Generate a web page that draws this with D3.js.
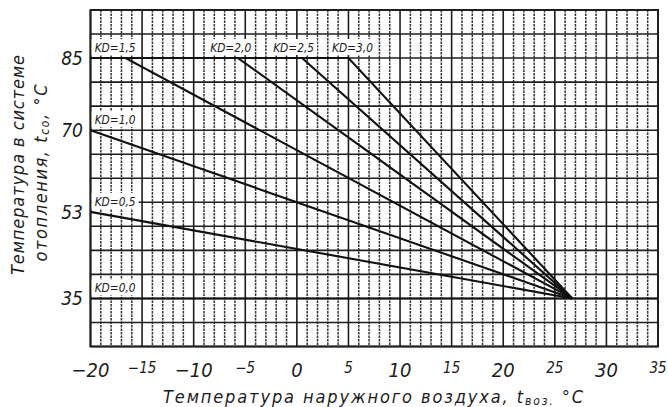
<!DOCTYPE html>
<html>
<head>
<meta charset="utf-8">
<script src="https://d3js.org/d3.v7.min.js"></script>
<style>
    body { margin: 0; background: #fff; }
    text {
        font-family: "Liberation Sans Narrow", "DejaVu Sans Condensed", sans-serif;
        font-style: italic;
        fill: #1c1c1c;
    }
    .grid-major { stroke: #1e1e1e; stroke-width: 1.6; }
    .grid-minor { stroke: #333; stroke-width: 1.5; stroke-dasharray: 2.5,1; }
    .kd { fill: none; stroke: #111; stroke-width: 2.1; }
</style>
</head>
<body>
<svg id="chart"></svg>
<script>
    // curve names, from the flattest up
    let kdNames = ['KD=0,0', 'KD=0,5', 'KD=1,0', 'KD=1,5', 'KD=2,0', 'KD=2,5', 'KD=3,0'];
    // break points of each curve: [outdoor temp, system temp]
    let kd00 = [[-20, 35], [35, 35]];
    let kd05 = [[-20, 53], [26.7, 35]];
    let kd10 = [[-20, 70], [26.7, 35]];
    let kd15 = [[-20, 85], [-16.6, 85], [26.7, 35]];
    let kd20 = [[-20, 85], [-5.7, 85], [26.7, 35]];
    let kd25 = [[-20, 85], [0.5, 85], [26.7, 35]];
    let kd30 = [[-20, 85], [5.0, 85], [26.7, 35]];
    // where each name is written (outdoor temp of its left edge)
    let labelX = [-19.6, -19.6, -19.6, -19.6, -8.4, -2.3, 3.4];

    let xTicks = [-20, -15, -10, -5, 0, 5, 10, 15, 20, 25, 30, 35];
    let yTicks = [85, 70, 53, 35];
    let xDomain = [-20, 35];
    let yDomain = [25, 95];

    let curves = [kd00, kd05, kd10, kd15, kd20, kd25, kd30];

    let width = 668, height = 407;
    let plot = { left: 90.5, right: 658, top: 10, bottom: 346.5 };

    let svg = d3.select('#chart')
        .attr('width', width)
        .attr('height', height);

    let xScale = d3.scaleLinear().domain(xDomain).range([plot.left, plot.right]);
    let yScale = d3.scaleLinear().domain(yDomain).range([plot.bottom, plot.top]);

    //---------grid
    let grid = svg.append('g');
    let minorX = d3.range(xDomain[0], xDomain[1] + 1).filter(d => d % 5 !== 0);
    let majorX = d3.range(xDomain[0], xDomain[1] + 1, 5);
    let majorY = d3.range(yDomain[0], yDomain[1] + 1, 5);

    grid.selectAll('.grid-minor')
        .data(minorX)
        .enter().append('line')
        .attr('class', 'grid-minor')
        .attr('x1', d => xScale(d)).attr('x2', d => xScale(d))
        .attr('y1', plot.top).attr('y2', plot.bottom);

    grid.selectAll('.vmajor')
        .data(majorX)
        .enter().append('line')
        .attr('class', 'grid-major vmajor')
        .attr('x1', d => xScale(d)).attr('x2', d => xScale(d))
        .attr('y1', plot.top).attr('y2', plot.bottom);

    grid.selectAll('.hmajor')
        .data(majorY)
        .enter().append('line')
        .attr('class', 'grid-major hmajor')
        .attr('x1', plot.left).attr('x2', plot.right)
        .attr('y1', d => yScale(d)).attr('y2', d => yScale(d));

    grid.append('rect')
        .attr('x', plot.left).attr('y', plot.top)
        .attr('width', plot.right - plot.left)
        .attr('height', plot.bottom - plot.top)
        .attr('fill', 'none')
        .attr('stroke', '#1e1e1e')
        .attr('stroke-width', 2);

    //---------curves
    let line = d3.line()
        .x(d => xScale(d[0]))
        .y(d => yScale(d[1]));

    svg.append('g').selectAll('.kd')
        .data(curves)
        .enter().append('path')
        .attr('class', 'kd')
        .attr('d', line);

    //---------curve names on white boxes
    let labels = svg.append('g');
    curves.forEach((c, i) => {
        let g = labels.append('g');
        let t = g.append('text')
            .attr('x', xScale(labelX[i]))
            .attr('y', yScale(c[0][1]) - 6)
            .attr('font-size', 13)
            .attr('textLength', 41)
            .attr('lengthAdjust', 'spacingAndGlyphs')
            .text(kdNames[i]);
        let b = t.node().getBBox();
        g.insert('rect', 'text')
            .attr('x', b.x - 3).attr('y', b.y - 1)
            .attr('width', b.width + 6).attr('height', b.height + 1)
            .attr('fill', '#fff');
    });

    //---------axes labels
    svg.append('g').selectAll('text')
        .data(xTicks)
        .enter().append('text')
        .attr('x', d => xScale(d))
        .attr('y', d => d % 10 === 0 ? 377 : 373)
        .attr('text-anchor', 'middle')
        .attr('font-size', d => d % 10 === 0 ? 20 : 15)
        .text(d => d < 0 ? '\u2212' + Math.abs(d) : d);

    svg.append('g').selectAll('text')
        .data(yTicks)
        .enter().append('text')
        .attr('x', 83)
        .attr('y', d => yScale(d))
        .attr('dy', '0.36em')
        .attr('text-anchor', 'end')
        .attr('font-size', 19)
        .text(d => d);

    //---------titles
    let xTitle = svg.append('text')
        .attr('x', 163).attr('y', 403)
        .attr('font-size', 18)
        .attr('textLength', 420)
        .attr('lengthAdjust', 'spacing');
    xTitle.append('tspan').text('Температура наружного воздуха, t');
    xTitle.append('tspan').attr('font-size', 12).attr('dy', 2).text('воз.');
    xTitle.append('tspan').attr('dy', -2).text(' °С');

    let yTitle1 = svg.append('text')
        .attr('transform', 'translate(24,165) rotate(-90)')
        .attr('text-anchor', 'middle')
        .attr('font-size', 18)
        .attr('textLength', 220)
        .attr('lengthAdjust', 'spacing')
        .text('Температура в системе');

    let yTitle2 = svg.append('text')
        .attr('transform', 'translate(47,173) rotate(-90)')
        .attr('text-anchor', 'middle')
        .attr('font-size', 18)
        .attr('textLength', 177)
        .attr('lengthAdjust', 'spacing');
    yTitle2.append('tspan').text('отопления, t');
    yTitle2.append('tspan').attr('font-size', 12).attr('dy', 2).text('со');
    yTitle2.append('tspan').attr('dy', -2).text(', °С');
</script>
</body>
</html>
